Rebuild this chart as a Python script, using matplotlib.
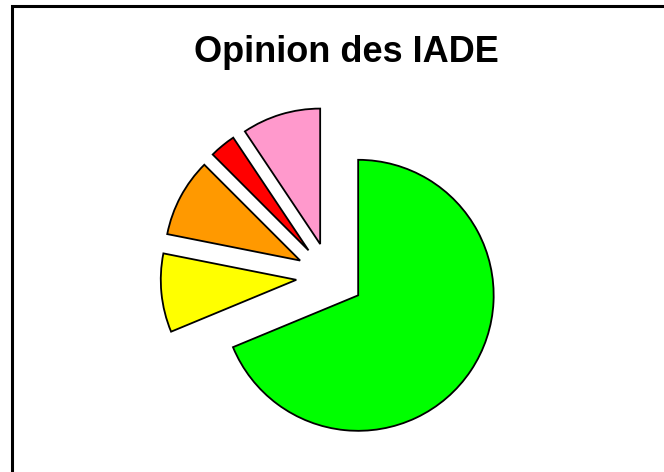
import matplotlib.pyplot as plt
from matplotlib.patches import Rectangle

# data (counts, green first, clockwise from 12 o'clock)
categories = ['A', 'B', 'C', 'D', 'E']
values = [22, 3, 3, 1, 3]
colors = ['#00ff00', '#ffff00', '#ff9900', '#ff0000', '#ff99cc']
explode = [0.25, 0.25, 0.25, 0.25, 0.25]

W, H = 664, 472
fig = plt.figure(figsize=(W / 100, H / 100), dpi=100)

# frame around the chart area (right and bottom edges fall outside the image)
fig.patches.append(Rectangle((12 / W, -0.1), 1.2, (H - 6) / H + 0.1,
                             transform=fig.transFigure, fill=False,
                             edgecolor='black', linewidth=2.2))

ax = fig.add_axes([0, 0, 1, 1])
ax.pie(values, colors=colors, explode=explode, startangle=90,
       counterclock=False,
       wedgeprops=dict(edgecolor='black', linewidth=1.3))

# pie centre at (330, 276.5) px, radius 135.5 px
cx, cy, r = 330, 276.5, 135.5
ax.set_xlim(-cx / r, (W - cx) / r)
ax.set_ylim(-(H - cy) / r, cy / r)
ax.set_aspect('auto')
ax.axis('off')

fig.text(346 / W, 1 - 53 / H, 'Opinion des IADE', ha='center', va='center',
         fontsize=26, fontweight='bold', family='Liberation Sans')

fig.savefig('out.png', dpi=100)
